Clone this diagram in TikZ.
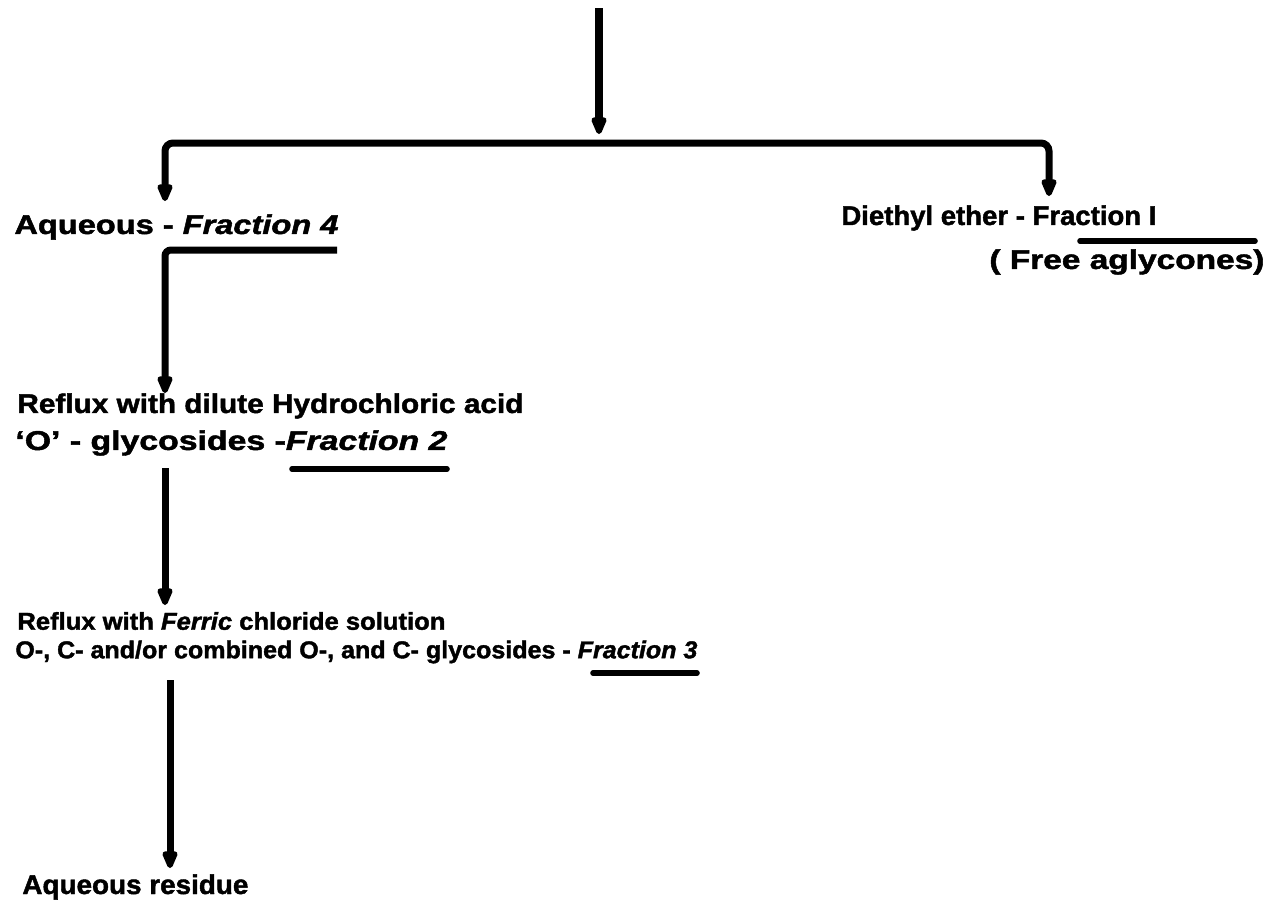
\documentclass[tikz,border=0pt]{standalone}
\usepackage{fontspec}
\setmainfont[BoldFeatures={FakeBold=1.6},BoldItalicFeatures={FakeBold=1.6}]{Liberation Sans}
\usetikzlibrary{arrows.meta}
\newcommand\fitw[2]{\resizebox{#1}{\height}{#2}}
\newcommand\fitwh[2]{\resizebox{#1}{0.9\height}{#2}}
\begin{document}
\begin{tikzpicture}[x=0.5pt,y=-0.5pt,
  lbl/.style={anchor=west,inner sep=0pt,font=\fontsize{13.5}{15}\selectfont\bfseries},
  conn/.style={line width=3.5pt,-{Triangle[length=11pt,width=8pt,round]}},
  flow/.style={line width=3.5pt},
  uline/.style={line width=2.8pt,line cap=round}]
\useasboundingbox (0,0) rectangle (1267,901);
% text nodes
\node[lbl] (aq)  at (14,227) {\fitw{162pt}{Aqueous - \textit{Fraction 4}}};
\node[lbl] (et)  at (841,218) {\fitw{157.5pt}{Diethyl ether - Fraction I}};
\node[lbl] (fa)  at (989,262) {\fitw{137.5pt}{( Free aglycones)}};
\node[lbl] (hcl) at (17,406) {\fitw{253pt}{Reflux with dilute Hydrochloric acid}};
\node[lbl] (f2)  at (15,443) {\fitw{216pt}{`O' - glycosides -\textit{Fraction 2}}};
\node[lbl] (fe)  at (17,621) {\fitwh{214pt}{Reflux with \textit{Ferric} chloride solution}};
\node[lbl] (f3)  at (15,652) {\fitwh{341pt}{O-, C- and/or combined O-, and C- glycosides - \textit{Fraction 3}}};
\node[lbl] (res) at (22,887) {\fitw{113pt}{Aqueous residue}};
% connector points
\coordinate (src) at (599,8);
\coordinate (split) at (599,134);
\coordinate (br) at (1049,143);
\coordinate (aqtip) at (165,201);
\coordinate (ettip) at (1049,196);
\coordinate (ul4e) at (337,250);
\coordinate (hcltip) at (165,393);
\coordinate (f2s) at (165,468);
\coordinate (fetip) at (165,605);
\coordinate (f3s) at (170,680);
\coordinate (restip) at (170,868);
% connectors
\draw[conn,line width=4pt] (src) -- (split);
\draw[flow,rounded corners=4pt,{Triangle[length=11pt,width=8pt,round]}-{Triangle[length=11pt,width=8pt,round]}] (aqtip) |- (br) -- (ettip);
\draw[conn,rounded corners=3pt] (ul4e) -| (hcltip);
\draw[conn] (f2s) -- (fetip);
\draw[conn] (f3s) -- (restip);
% underlines
\draw[uline] (1080,241) -- (1255,241);
\draw[uline] (292,469) -- (447,469);
\draw[uline] (593,673) -- (697,673);
\end{tikzpicture}
\end{document}
